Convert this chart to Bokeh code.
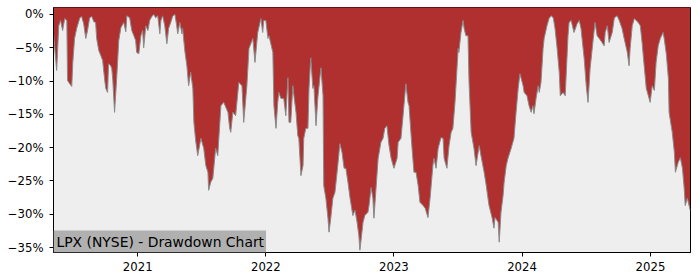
import pandas as pd
from bokeh.plotting import figure
from bokeh.models import (ColumnDataSource, Range1d, FixedTicker, CustomJSTickFormatter, Label)
from bokeh.embed import file_html
from bokeh.resources import INLINE

TITLE = "LPX (NYSE) - Drawdown Chart"

DATES = [
"2020-05-06","2020-05-15","2020-05-21","2020-05-26","2020-06-01","2020-06-07","2020-06-13","2020-06-15","2020-06-21","2020-06-27",
"2020-06-30","2020-07-05","2020-07-11","2020-07-20","2020-07-25","2020-07-31","2020-08-06","2020-08-11","2020-08-17","2020-08-23",
"2020-08-29","2020-09-03","2020-09-06","2020-09-12","2020-09-18","2020-09-23","2020-09-29","2020-10-02","2020-10-07","2020-10-10",
"2020-10-16","2020-10-19","2020-10-22","2020-10-27","2020-11-02","2020-11-08","2020-11-14","2020-11-22","2020-11-28","2020-12-01",
"2020-12-09","2020-12-15","2020-12-21","2020-12-26","2020-12-29","2021-01-04","2021-01-10","2021-01-15","2021-01-18","2021-01-24",
"2021-01-30","2021-02-04","2021-02-10","2021-02-16","2021-02-21","2021-02-27","2021-03-05","2021-03-08","2021-03-13","2021-03-19",
"2021-03-25","2021-03-30","2021-04-05","2021-04-11","2021-04-17","2021-04-22","2021-04-25","2021-05-01","2021-05-07","2021-05-09",
"2021-05-15","2021-05-21","2021-05-26","2021-06-01","2021-06-07","2021-06-10","2021-06-15","2021-06-21","2021-06-30","2021-07-08",
"2021-07-14","2021-07-20","2021-07-22","2021-07-28","2021-08-03","2021-08-11","2021-08-17","2021-08-26","2021-09-03","2021-09-15",
"2021-09-20","2021-09-23","2021-09-29","2021-10-07","2021-10-16","2021-10-25","2021-10-30","2021-11-08","2021-11-14","2021-11-25",
"2021-12-01","2021-12-09","2021-12-18","2021-12-23","2021-12-26","2022-01-01","2022-01-07","2022-01-10","2022-01-21","2022-01-24",
"2022-01-30","2022-02-04","2022-02-07","2022-02-13","2022-02-21","2022-02-27","2022-03-05","2022-03-08","2022-03-13","2022-03-19",
"2022-03-22","2022-03-28","2022-04-02","2022-04-05","2022-04-11","2022-04-17","2022-04-19","2022-04-25","2022-05-01","2022-05-04",
"2022-05-09","2022-05-15","2022-05-18","2022-05-24","2022-05-29","2022-06-07","2022-06-13","2022-06-15","2022-06-21","2022-06-27",
"2022-06-30","2022-07-05","2022-07-11","2022-07-17","2022-07-25","2022-07-31","2022-08-06","2022-08-12","2022-08-17","2022-08-23",
"2022-08-29","2022-09-06","2022-09-12","2022-09-18","2022-09-23","2022-09-26","2022-10-05","2022-10-10","2022-10-19","2022-10-22",
"2022-10-28","2022-11-02","2022-11-05","2022-11-11","2022-11-17","2022-11-25","2022-12-01","2022-12-06","2022-12-12","2022-12-18",
"2022-12-24","2023-01-01","2023-01-10","2023-01-13","2023-01-21","2023-01-27","2023-02-04","2023-02-10","2023-02-13","2023-02-21",
"2023-02-27","2023-03-05","2023-03-11","2023-03-16","2023-03-25","2023-03-31","2023-04-08","2023-04-14","2023-04-22","2023-04-25",
"2023-05-01","2023-05-07","2023-05-15","2023-05-21","2023-05-24","2023-06-01","2023-06-07","2023-06-13","2023-06-18","2023-06-24",
"2023-07-03","2023-07-05","2023-07-11","2023-07-17","2023-07-20","2023-07-25","2023-07-31","2023-08-03","2023-08-09","2023-08-17",
"2023-08-23","2023-08-29","2023-09-01","2023-09-06","2023-09-15","2023-09-21","2023-09-26","2023-09-29","2023-10-08","2023-10-13",
"2023-10-16","2023-10-25","2023-10-28","2023-11-02","2023-11-08","2023-11-11","2023-11-17","2023-11-22","2023-12-01","2023-12-09",
"2023-12-15","2023-12-21","2023-12-26","2024-01-04","2024-01-07","2024-01-15","2024-01-21","2024-01-27","2024-02-01","2024-02-04",
"2024-02-10","2024-02-16","2024-02-19","2024-02-24","2024-03-01","2024-03-04","2024-03-12","2024-03-18","2024-03-24","2024-03-30",
"2024-04-04","2024-04-10","2024-04-16","2024-04-19","2024-04-27","2024-05-03","2024-05-11","2024-05-14","2024-05-20","2024-05-28",
"2024-06-06","2024-06-12","2024-06-17","2024-06-26","2024-07-02","2024-07-07","2024-07-13","2024-07-22","2024-07-27","2024-08-02",
"2024-08-08","2024-08-16","2024-08-22","2024-08-25","2024-08-31","2024-09-05","2024-09-14","2024-09-20","2024-09-28","2024-10-04",
"2024-10-12","2024-10-18","2024-10-27","2024-11-01","2024-11-04","2024-11-10","2024-11-16","2024-11-21","2024-11-27","2024-12-03",
"2024-12-08","2024-12-14","2024-12-20","2024-12-28","2024-12-31","2025-01-06","2025-01-12","2025-01-17","2025-01-23","2025-01-29",
"2025-02-06","2025-02-09","2025-02-15","2025-02-21","2025-02-23","2025-03-04","2025-03-10","2025-03-13","2025-03-21","2025-03-27",
"2025-04-02","2025-04-07","2025-04-10","2025-04-16","2025-04-24",
]

DRAWDOWN = [
-2.9,-8.4,-1.7,-0.9,-2.4,-0.6,-0.9,-9.9,-10.4,-10.8,
-7.2,-3.6,-2.1,-0.5,-0.3,-1.4,-3.6,-2.4,-0.5,-0.3,
-1.1,-1.2,-3.6,-5.4,-6.2,-6.9,-9.9,-11.1,-11.7,-7.4,
-7.7,-8.1,-9.9,-14.7,-9.6,-3.9,-2.0,-1.2,-2.6,-0.2,
-0.5,-2.4,-3.2,-3.9,-5.7,-5.9,-3.2,-2.4,-5.0,-1.7,
-2.4,-0.9,-0.3,0.0,-0.5,-0.2,-2.9,-0.9,-0.2,-1.7,
-4.4,-2.1,-1.2,-0.2,0.0,-1.7,-2.9,-1.2,-2.9,-2.1,
-5.4,-7.7,-10.7,-8.7,-11.1,-16.2,-18.9,-21.2,-18.6,-20.1,
-22.7,-23.7,-26.4,-25.2,-24.6,-20.1,-21.2,-13.7,-13.2,-14.7,
-17.1,-17.7,-14.7,-15.2,-10.2,-10.7,-16.2,-10.7,-5.1,-3.6,
-7.2,-2.7,-0.6,-2.7,-0.9,-0.9,-3.6,-3.2,-5.7,-13.7,
-17.1,-13.2,-11.7,-12.6,-12.6,-15.2,-9.5,-16.2,-16.2,-10.7,
-12.2,-14.7,-18.2,-18.6,-24.2,-22.7,-18.6,-17.1,-17.1,-11.1,
-6.5,-11.1,-10.7,-16.7,-12.6,-8.0,-12.2,-25.7,-27.6,-30.6,
-32.7,-30.6,-27.6,-26.7,-22.7,-19.4,-20.7,-23.1,-23.1,-25.2,
-27.6,-30.2,-29.4,-31.2,-33.2,-35.4,-31.2,-30.2,-29.7,-28.7,
-26.0,-27.6,-30.6,-26.1,-21.6,-19.2,-18.6,-17.1,-16.7,-19.7,
-21.6,-23.1,-21.6,-19.2,-18.6,-15.2,-10.4,-13.2,-13.7,-19.7,
-23.7,-23.7,-25.7,-28.2,-28.7,-29.1,-30.5,-27.6,-22.7,-21.6,
-23.1,-20.1,-18.5,-18.6,-21.6,-23.1,-19.7,-17.7,-17.1,-13.2,
-5.1,-5.7,-2.7,-0.9,-2.1,-3.2,-3.2,-10.2,-17.7,-20.1,
-22.7,-20.7,-19.7,-21.2,-23.7,-25.7,-27.6,-28.7,-30.6,-32.1,
-30.5,-31.2,-34.2,-29.7,-27.2,-25.2,-22.7,-21.6,-20.1,-18.6,
-14.7,-11.1,-8.9,-10.7,-11.7,-12.2,-13.7,-14.7,-13.7,-14.9,
-12.6,-10.7,-11.7,-10.2,-5.1,-3.6,-1.7,-0.6,-0.2,-0.5,
-2.1,-5.1,-8.7,-12.2,-11.7,-12.2,-3.2,-1.2,-0.9,-2.7,
-1.4,-0.9,-2.1,-6.6,-10.7,-13.2,-8.1,-3.6,-1.2,-3.2,
-3.6,-4.2,-4.7,-2.7,-1.7,-4.2,-2.7,-0.5,-0.2,-0.9,
-2.1,-3.6,-5.7,-7.7,-5.1,-1.7,-0.6,-0.9,-1.2,-1.7,
-4.2,-7.7,-11.1,-12.6,-13.2,-10.7,-11.4,-7.2,-4.7,-3.6,
-2.7,-3.6,-5.9,-9.6,-14.7,-17.7,-20.7,-23.7,-22.2,-21.5,
-23.1,-26.1,-28.7,-27.6,-29.4,
]

Y_TICKS = [0, -5, -10, -15, -20, -25, -30, -35]
X_TICK_YEARS = ["2021-01-01", "2022-01-01", "2023-01-01", "2024-01-01", "2025-01-01"]
X_START, X_END = "2020-05-06", "2025-04-25"
Y_MIN, Y_MAX = -35.75, 1.05

dates = pd.to_datetime(DATES)
src = ColumnDataSource(dict(date=dates, dd=DRAWDOWN))

def ms(s):
    return pd.Timestamp(s).value / 1e6

p = figure(width=700, height=280, output_backend="svg", toolbar_location=None,
           x_axis_type="datetime",
           x_range=Range1d(ms(X_START), ms(X_END)),
           y_range=Range1d(Y_MIN, Y_MAX),
           min_border_left=53, min_border_right=10, min_border_top=7, min_border_bottom=28)

p.background_fill_color = "#eeeeee"
p.border_fill_color = "white"
p.outline_line_color = "black"
p.outline_line_width = 1
p.outline_line_alpha = 1
p.grid.visible = False

p.varea(x="date", y1="dd", y2=Y_MAX + 5, source=src, fill_color="#b03030")
p.line(x="date", y="dd", source=src, line_color="#8a8a8a", line_width=1)

for ax in (p.xaxis[0], p.yaxis[0]):
    ax.axis_line_color = "black"
    ax.major_tick_line_color = "black"
    ax.minor_tick_line_color = None
    ax.major_tick_out = 4
    ax.major_tick_in = 0
    ax.major_label_text_font = "DejaVu Sans"
    ax.major_label_text_font_size = "11.7px"
    ax.major_label_text_color = "black"

p.yaxis.ticker = FixedTicker(ticks=Y_TICKS)
p.yaxis.formatter = CustomJSTickFormatter(code="return (tick == 0 ? '0' : '\u2212' + Math.abs(tick)) + '%';")
p.yaxis.major_label_standoff = 6
p.xaxis.ticker = FixedTicker(ticks=[ms(d) for d in X_TICK_YEARS])
p.xaxis.formatter = CustomJSTickFormatter(code="return new Date(tick).getUTCFullYear().toString();")
p.xaxis.major_label_standoff = 5

lab = Label(x=ms(X_START), y=Y_MIN, text=TITLE, text_baseline="bottom", text_align="left",
            text_font="DejaVu Sans", text_font_size="13.9px", text_color="black",
            background_fill_color="#b0b0b0", background_fill_alpha=1,
            padding=(3, 2, 3, 3))
p.add_layout(lab)

open("out.html", "w").write(file_html(p, INLINE))
